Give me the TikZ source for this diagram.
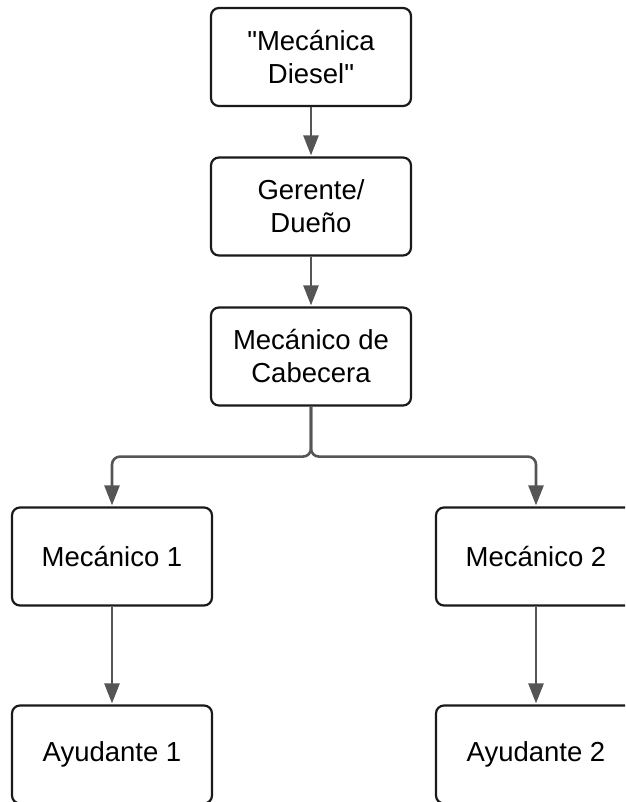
\documentclass[tikz,border=0pt]{standalone}
\usepackage{fontspec}
\setmainfont{Liberation Sans}
\usetikzlibrary{arrows.meta}
\definecolor{conncol}{HTML}{555555}
\definecolor{boxcol}{HTML}{1A1A1A}
\begin{document}
\begin{tikzpicture}[x=1pt,y=-1pt,
  box/.style={draw=boxcol, line width=2.2pt, rounded corners=8pt, fill=white,
    minimum width=200pt, minimum height=98pt, align=center, inner sep=0pt,
    font=\fontsize{27.5}{33}\selectfont, text=black},
  conn/.style={draw=conncol, line width=2.6pt,
    -{Triangle[length=20pt,width=15pt]}, shorten >=1pt}]
\clip (0,0) rectangle (625,802);
\fill[white] (0,0) rectangle (625,802);
\node[box] (a) at (311,57) {\textquotedbl Mecánica\\Diesel\textquotedbl};
\node[box] (b) at (311,206.5) {Gerente/\\Dueño};
\node[box] (c) at (311,356.5) {Mecánico de\\Cabecera};
\node[box] (m1) at (112,556.5) {Mecánico 1};
\node[box] (m2) at (536,556.5) {Mecánico 2};
\node[box] (y1) at (112,754.5) {Ayudante 1};
\node[box] (y2) at (536,754.5) {Ayudante 2};
\draw[conn] (a) -- (b);
\draw[conn] (b) -- (c);
\draw[conn, rounded corners=8pt] (c.south) -- ++(0,50) -| (m1.north);
\draw[conn, rounded corners=8pt] (c.south) -- ++(0,50) -| (m2.north);
\draw[conn] (m1) -- (y1);
\draw[conn] (m2) -- (y2);
\end{tikzpicture}
\end{document}
